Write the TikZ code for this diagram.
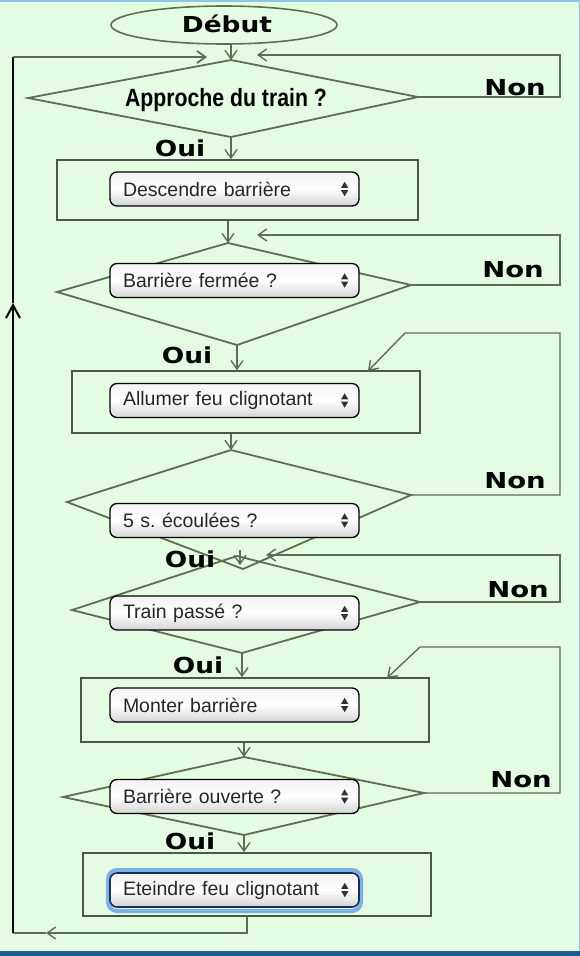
\documentclass[tikz,border=0pt]{standalone}
\usepackage{graphicx}
\usepackage{fontspec}
\setmainfont{Liberation Sans}
\newfontfamily\djv{DejaVu Sans}
\usetikzlibrary{arrows.meta,calc,shapes.geometric}
\definecolor{bg}{HTML}{E4FCE2}
\definecolor{lc}{HTML}{5F6E52}
\definecolor{rc}{HTML}{4E5646}
\definecolor{topb}{HTML}{8FC6E3}
\definecolor{botb}{HTML}{1D5B90}
\definecolor{ring}{HTML}{7DB0EB}
\definecolor{navy}{HTML}{13305C}
\frenchspacing
\newcommand\updn[1]{%
  \fill[black!80] ($(#1.east)+(-15,-1.2)$) ++(-3.6,0) -- ++(7.2,0) -- ++(-3.6,-6) -- cycle;
  \fill[black!80] ($(#1.east)+(-15,1.2)$) ++(-3.6,0) -- ++(7.2,0) -- ++(-3.6,6) -- cycle;}
\begin{document}
\begin{tikzpicture}[x=1pt,y=-1pt,
  ln/.style={draw=lc, line width=1.5pt},
  dia/.style={draw=lc, line width=1.8pt, line join=miter},
  arr/.style={draw=lc, line width=1.4pt, -{Straight Barb[length=8.5pt,width=12pt]}},
  blk/.style={draw=black, line width=2pt},
  rectbox/.style={draw=rc, line width=1.6pt, inner sep=0},
  combo/.style={draw=black, line width=1.3pt, rounded corners=7pt,
     top color=black!5, bottom color=black!17, middle color=white,
     minimum height=34pt, text width=223pt, inner xsep=13pt, inner ysep=0pt,
     align=left, font=\fontsize{19.5}{22}\selectfont, text=black!85},
  lbl/.style={font=\djv\bfseries\fontsize{22}{24}\selectfont, inner sep=0}]
\useasboundingbox (0,0) rectangle (580,956);
\fill[bg] (0,0) rectangle (580,956);
\fill[topb] (0,0) rectangle (580,2);
\fill[topb] (578.5,0) rectangle (580,956);
\fill[botb] (0,951) rectangle (580,956);

% start
\node[draw=lc, line width=1.6pt, ellipse, minimum width=226pt, minimum height=38pt, inner sep=0] (deb) at (224,25) {};
\node[lbl] (debt) at (227,24) {\scalebox{1.2}[1]{Début}};

% diamonds (vertices)
\coordinate (d1l) at (28,98);  \coordinate (d1t) at (231,60);  \coordinate (d1r) at (418,97);  \coordinate (d1b) at (231,137);
\coordinate (d2l) at (57,292); \coordinate (d2t) at (228,243); \coordinate (d2r) at (411,285); \coordinate (d2b) at (237,345);
\coordinate (d3l) at (67,502); \coordinate (d3t) at (231,450); \coordinate (d3r) at (411,495); \coordinate (d3b) at (243,569);
\coordinate (d4l) at (72,610); \coordinate (d4t) at (237,556); \coordinate (d4r) at (420,602); \coordinate (d4b) at (242,653);
\coordinate (d5l) at (63,797); \coordinate (d5t) at (244,757); \coordinate (d5r) at (424,793); \coordinate (d5b) at (244,835);
\foreach \d in {d1,d2,d3,d4,d5}{\draw[dia] (\d l) -- (\d t) -- (\d r) -- (\d b) -- cycle;}

\node[font=\bfseries\fontsize{25}{27}\selectfont, inner sep=0] (q1) at (226,100) {\scalebox{0.85}[1]{Approche du train ?}};

% rectangles
\node[rectbox, minimum width=361pt, minimum height=60pt] (r1) at (237.5,190) {};
\node[rectbox, minimum width=348pt, minimum height=62pt] (r2) at (246,402) {};
\node[rectbox, minimum width=348pt, minimum height=64pt] (r3) at (255,710) {};
\node[rectbox, minimum width=348pt, minimum height=63pt] (r4) at (257,884.5) {};

% combo boxes
\node[combo] (c1) at (234.5,189) {Descendre barrière};
\node[combo] (c2) at (234.5,280.5) {Barrière fermée ?};
\node[combo] (c3) at (234.5,400.5) {Allumer feu clignotant};
\node[combo] (c4) at (234.5,520.5) {5 s. écoulées ?};
\node[combo] (c5) at (234.5,613) {Train passé ?};
\node[combo] (c6) at (234.5,705) {Monter barrière};
\node[combo] (c7) at (234.5,796.5) {Barrière ouverte ?};
\draw[ring, line width=4pt, rounded corners=9pt] (108,870) rectangle (361,911);
\node[combo, draw=navy, line width=1.6pt] (c8) at (234.5,890) {Eteindre feu clignotant};
\foreach \c in {c1,c2,c3,c4,c5,c6,c7,c8}{\updn{\c}}

% Oui / Non labels
\node[lbl] (o1) at (180,148) {\scalebox{1.2}[1]{Oui}};
\node[lbl] (o2) at (187,355) {\scalebox{1.2}[1]{Oui}};
\node[lbl] (o3) at (190,559) {\scalebox{1.2}[1]{Oui}};
\node[lbl] (o4) at (198,665) {\scalebox{1.2}[1]{Oui}};
\node[lbl] (o5) at (190,841) {\scalebox{1.2}[1]{Oui}};
\node[lbl] (n1) at (515,88)  {\scalebox{1.25}[1]{Non}};
\node[lbl] (n2) at (513,270) {\scalebox{1.25}[1]{Non}};
\node[lbl] (n3) at (515,481) {\scalebox{1.25}[1]{Non}};
\node[lbl] (n4) at (518,590) {\scalebox{1.25}[1]{Non}};
\node[lbl] (n5) at (521,780) {\scalebox{1.25}[1]{Non}};

% main downward connectors
\draw[arr] (d1t |- deb.south) -- (d1t);
\draw[arr] (d1b) -- (d1b |- r1.north);
\draw[arr] (d2t |- r1.south) -- (d2t);
\draw[arr] (d2b) -- (d2b |- r2.north);
\draw[arr] (d3t |- r2.south) -- (d3t);
\coordinate (o3a) at (240,550); \coordinate (o3b) at (240,565);
\draw[arr] (o3a) -- (o3b);
\draw[arr] (d4b) -- (d4b |- r3.north);
\draw[arr] (d5t |- r3.south) -- (d5t);
\draw[arr] (d5b) -- (d5b |- r4.north);

% Non loops
\coordinate (a1) at (560,97);  \coordinate (b1) at (560,55);  \coordinate (t1) at (257,55);
\draw[arr] (d1r) -- (a1) -- (b1) -- (t1);
\coordinate (a2) at (560,285); \coordinate (b2) at (560,235); \coordinate (t2) at (257,235);
\draw[arr] (d2r) -- (a2) -- (b2) -- (t2);
\coordinate (a3) at (560,495); \coordinate (b3) at (560,333); \coordinate (e3) at (405,333); \coordinate (t3) at (368,371);
\draw[arr] (d3r) -- (a3) -- (b3) -- (e3) -- (t3);
\coordinate (a4) at (560,602); \coordinate (b4) at (560,555); \coordinate (t4) at (266,555);
\draw[arr] (d4r) -- (a4) -- (b4) -- (t4);
\coordinate (a5) at (560,793); \coordinate (b5) at (560,647); \coordinate (e5) at (420,647); \coordinate (t5) at (387,678);
\draw[arr] (d5r) -- (a5) -- (b5) -- (e5) -- (t5);

% return loop
\coordinate (l1) at (247,933); \coordinate (lm) at (46,933); \coordinate (l2) at (13,933);
\coordinate (lu) at (13,303); \coordinate (l3) at (13,57); \coordinate (lt) at (207,57);
\draw[arr] (l1 |- r4.south) -- (l1) -- (lm);
\draw[ln] (lm) -- (l2);
\draw[blk, -{Straight Barb[length=13pt,width=14pt]}] (l2) -- (lu);
\draw[blk] (lu) -- (l3);
\draw[arr, line width=1.8pt] (l3) -- (lt);
\end{tikzpicture}
\end{document}
